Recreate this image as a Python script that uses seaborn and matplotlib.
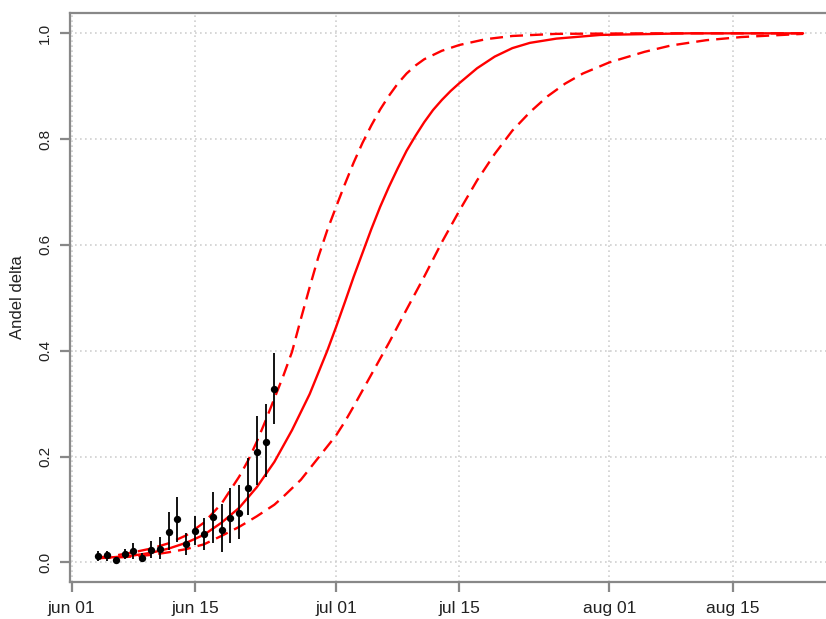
import pandas as pd
import seaborn as sns
import matplotlib.pyplot as plt

# observed share of delta per day (jun 04 - jun 24), with interval ends
obs_dates = pd.date_range("2021-06-04", "2021-06-24", freq="D")
obs_share = [0.012, 0.013, 0.004, 0.016, 0.021, 0.009, 0.023, 0.026, 0.058, 0.082,
             0.034, 0.060, 0.054, 0.086, 0.061, 0.084, 0.094, 0.140, 0.209, 0.228, 0.327]
obs_low = [0.003, 0.003, 0.000, 0.006, 0.007, 0.000, 0.008, 0.006, 0.023, 0.039,
           0.014, 0.033, 0.024, 0.036, 0.020, 0.036, 0.045, 0.089, 0.146, 0.162, 0.261]
obs_high = [0.021, 0.022, 0.011, 0.026, 0.036, 0.018, 0.040, 0.048, 0.096, 0.124,
            0.055, 0.088, 0.083, 0.132, 0.111, 0.140, 0.146, 0.198, 0.277, 0.300, 0.395]

# fitted curve and band (days after jun 01)
fit_days = [3, 5, 7, 9, 11, 13, 15, 17, 19, 21, 23, 25, 27, 29, 30, 31, 32, 33, 34, 35,
            36, 37, 38, 39, 40, 41, 42, 43, 44, 46, 48, 50, 52, 55, 60, 70, 83]
fit_share = [0.008, 0.010, 0.013, 0.018, 0.026, 0.037, 0.052, 0.075, 0.103, 0.142,
             0.190, 0.250, 0.318, 0.400, 0.445, 0.492, 0.540, 0.585, 0.630, 0.672,
             0.710, 0.745, 0.778, 0.806, 0.832, 0.855, 0.874, 0.891, 0.906, 0.934,
             0.956, 0.972, 0.982, 0.990, 0.997, 1.000, 1.000]

up_days = [3, 5, 7, 9, 11, 13, 15, 17, 19, 20, 21, 22, 23, 24, 25, 26, 27, 28, 29, 30,
           31, 32, 33, 34, 35, 36, 37, 38, 39, 40, 42, 44, 47, 50, 55, 65, 83]
up_share = [0.009, 0.013, 0.019, 0.026, 0.036, 0.051, 0.075, 0.111, 0.162, 0.192,
            0.228, 0.268, 0.310, 0.352, 0.398, 0.460, 0.520, 0.578, 0.628, 0.672,
            0.715, 0.756, 0.793, 0.826, 0.856, 0.882, 0.905, 0.924, 0.939, 0.951,
            0.967, 0.978, 0.989, 0.995, 0.999, 1.000, 1.000]

low_days = [3, 5, 7, 9, 11, 13, 15, 17, 19, 21, 23, 24, 26, 28, 30, 31, 32, 34, 36, 38,
            40, 42, 44, 46, 48, 50, 52, 54, 56, 58, 61, 65, 68, 72, 76, 83]
low_share = [0.008, 0.009, 0.011, 0.014, 0.019, 0.025, 0.034, 0.050, 0.067, 0.087,
             0.109, 0.124, 0.156, 0.198, 0.240, 0.266, 0.295, 0.355, 0.415, 0.478,
             0.540, 0.605, 0.665, 0.722, 0.772, 0.816, 0.851, 0.881, 0.905, 0.924,
             0.945, 0.965, 0.977, 0.987, 0.993, 0.999]

tick_dates = ["2021-06-01", "2021-06-15", "2021-07-01", "2021-07-15", "2021-08-01", "2021-08-15"]
tick_labels = ["jun 01", "jun 15", "jul 01", "jul 15", "aug 01", "aug 15"]
ytick_vals = [0.0, 0.2, 0.4, 0.6, 0.8, 1.0]
ytick_labels = ["0.0", "0.2", "0.4", "0.6", "0.8", "1.0"]

start = pd.Timestamp("2021-06-01")
def to_dates(days):
    return start + pd.to_timedelta(days, unit="D")

sns.set_style("white")
plt.rcParams['font.family'] = ['Liberation Sans', 'DejaVu Sans']

fig = plt.figure(figsize=(8.26, 6.19), dpi=100)
ax = fig.add_axes([70 / 826, 1 - 582 / 619, 756 / 826, (582 - 12.7) / 619])

ax.grid(True, color='#d0d0d0', linestyle=(0, (1, 2)), linewidth=1.2)
ax.set_axisbelow(True)

# fitted curve (solid) and its band (dashed)
sns.lineplot(x=to_dates(fit_days), y=fit_share, color='red', linewidth=1.7, ax=ax)
sns.lineplot(x=to_dates(up_days), y=up_share, color='red', linewidth=1.7,
             linestyle=(0, (5.5, 3)), ax=ax)
sns.lineplot(x=to_dates(low_days), y=low_share, color='red', linewidth=1.7,
             linestyle=(0, (5.5, 3)), ax=ax)

ax.vlines(obs_dates, obs_low, obs_high, color='black', linewidth=1.3, zorder=4)
sns.scatterplot(x=obs_dates, y=obs_share, color='black', s=28, edgecolor='black',
                linewidth=0, zorder=5, ax=ax)

ax.set_xlim(to_dates(-0.2), to_dates(85.6))
ax.set_ylim(-0.0372, 1.039)
ax.set_xticks(pd.to_datetime(tick_dates))
ax.set_xticklabels(tick_labels)
ax.set_yticks(ytick_vals)
ax.set_yticklabels(ytick_labels, rotation=90, va='center')
ax.set_xlabel('')
ax.set_ylabel('Andel delta', fontsize=12, color='#222222', labelpad=9)

for side in ['left', 'bottom', 'top']:
    ax.spines[side].set_color('#888888')
    ax.spines[side].set_linewidth(1.6)
ax.spines['right'].set_visible(False)
ax.tick_params(axis='both', direction='out', length=7, width=1.6, color='#888888',
               labelcolor='#222222', bottom=True, left=True)
ax.tick_params(axis='x', pad=7, labelsize=12.5)
ax.tick_params(axis='y', pad=6, labelsize=11)

fig.savefig('out.png', dpi=100)
